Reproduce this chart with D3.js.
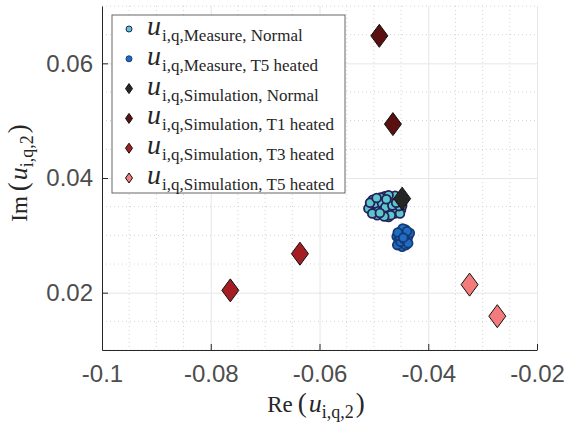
<!DOCTYPE html>
<html>
<head>
<meta charset="utf-8">
<script src="https://cdn.jsdelivr.net/npm/d3@7"></script>
<style>
  body { margin: 0; background: #fff; }
  .tick text { font-family: "Liberation Sans", Arial, sans-serif; font-size: 24px; fill: #4d4d4d; }
  .tex { font-family: "Liberation Serif", "DejaVu Serif", serif; fill: #262626; }
</style>
</head>
<body>
<svg width="568" height="428"></svg>
<script>
const svg = d3.select('svg');
const width = +svg.attr('width');
const height = +svg.attr('height');

// tick labels
const xTicks = [-0.1, -0.08, -0.06, -0.04, -0.02];
const yTicks = [0.02, 0.04, 0.06];

// measurement clouds [re, im]
const measNormal = [
  [-0.0505, 0.0352], [-0.0498, 0.0345], [-0.0490, 0.0360], [-0.0482, 0.0338], [-0.0476, 0.0355],
  [-0.0470, 0.0365], [-0.0466, 0.0342], [-0.0460, 0.0350], [-0.0455, 0.0358], [-0.0450, 0.0345],
  [-0.0510, 0.0347], [-0.0502, 0.0362], [-0.0494, 0.0335], [-0.0487, 0.0350], [-0.0480, 0.0368],
  [-0.0473, 0.0332], [-0.0468, 0.0356], [-0.0462, 0.0338], [-0.0457, 0.0366], [-0.0448, 0.0352],
  [-0.0496, 0.0355], [-0.0484, 0.0344], [-0.0478, 0.0360], [-0.0471, 0.0347], [-0.0464, 0.0361],
  [-0.0458, 0.0344], [-0.0452, 0.0338], [-0.0488, 0.0366], [-0.0500, 0.0340], [-0.0475, 0.0340],
  [-0.0507, 0.0357], [-0.0492, 0.0342], [-0.0485, 0.0356], [-0.0479, 0.0349], [-0.0469, 0.0335],
  [-0.0461, 0.0369], [-0.0454, 0.0351], [-0.0495, 0.0365], [-0.0481, 0.0333], [-0.0466, 0.0352],
  [-0.0503, 0.0338], [-0.0473, 0.0370], [-0.0459, 0.0357], [-0.0489, 0.0339], [-0.0477, 0.0363]
];
const measT5 = [
  [-0.0455, 0.0285], [-0.0450, 0.0295], [-0.0445, 0.0305], [-0.0440, 0.0290], [-0.0436, 0.0300],
  [-0.0448, 0.0280], [-0.0458, 0.0298], [-0.0442, 0.0310], [-0.0452, 0.0306], [-0.0438, 0.0295],
  [-0.0446, 0.0288], [-0.0454, 0.0292], [-0.0443, 0.0298], [-0.0449, 0.0301], [-0.0434, 0.0304],
  [-0.0457, 0.0283], [-0.0441, 0.0283], [-0.0447, 0.0312], [-0.0451, 0.0289], [-0.0439, 0.0307],
  [-0.0453, 0.0299], [-0.0444, 0.0293], [-0.0437, 0.0286], [-0.0456, 0.0305], [-0.0446, 0.0296]
];

// simulation points [re, im]
const simNormal = [[-0.0448, 0.0364]];
const simT1 = [[-0.0490, 0.0648], [-0.0465, 0.0494]];
const simT3 = [[-0.0636, 0.0268], [-0.0764, 0.0204]];
const simT5 = [[-0.0324, 0.0214], [-0.0273, 0.0159]];

const legendLabels = [
  'i,q,Measure, Normal',
  'i,q,Measure, T5 heated',
  'i,q,Simulation, Normal',
  'i,q,Simulation, T1 heated',
  'i,q,Simulation, T3 heated',
  'i,q,Simulation, T5 heated'
];

const margin = {top: 6, right: 31, bottom: 78, left: 102};
const innerWidth = width - margin.left - margin.right;
const innerHeight = height - margin.top - margin.bottom;

const xScale = d3.scaleLinear().domain([-0.1, -0.02]).range([0, innerWidth]);
const yScale = d3.scaleLinear().domain([0.01, 0.07]).range([innerHeight, 0]);

const g = svg.append('g')
  .attr('transform', `translate(${margin.left}, ${margin.top})`);

// minor grid (dotted)
const xMinor = d3.range(-0.1, -0.0199, 0.005).filter(v => !xTicks.some(t => Math.abs(t - v) < 1e-9));
const yMinor = d3.range(0.01, 0.0701, 0.005).filter(v => !yTicks.some(t => Math.abs(t - v) < 1e-9));

g.append('g').selectAll('line').data(xMinor).enter().append('line')
  .attr('x1', d => xScale(d)).attr('x2', d => xScale(d))
  .attr('y1', 0).attr('y2', innerHeight)
  .attr('stroke', '#d4d4d4').attr('stroke-dasharray', '1,3');
g.append('g').selectAll('line').data(yMinor).enter().append('line')
  .attr('y1', d => yScale(d)).attr('y2', d => yScale(d))
  .attr('x1', 0).attr('x2', innerWidth)
  .attr('stroke', '#d4d4d4').attr('stroke-dasharray', '1,3');

// major grid
g.append('g')
  .attr('transform', `translate(0, ${innerHeight})`)
  .call(d3.axisBottom(xScale).tickValues(xTicks).tickSize(-innerHeight).tickFormat(''))
  .call(s => s.select('.domain').remove())
  .selectAll('line').attr('stroke', '#e6e6e6');
g.append('g')
  .call(d3.axisLeft(yScale).tickValues(yTicks).tickSize(-innerWidth).tickFormat(''))
  .call(s => s.select('.domain').remove())
  .selectAll('line').attr('stroke', '#e6e6e6');

// axes, ticks pointing inward, plain hyphen for the minus sign
const tickFmt = d => String(d);
const xAxisG = g.append('g')
  .attr('transform', `translate(0, ${innerHeight})`)
  .call(d3.axisBottom(xScale).tickValues(xTicks).tickFormat(tickFmt).tickSizeInner(-6).tickSizeOuter(0).tickPadding(15));
const yAxisG = g.append('g')
  .call(d3.axisLeft(yScale).tickValues(yTicks).tickFormat(tickFmt).tickSizeInner(-6).tickSizeOuter(0).tickPadding(9));
[xAxisG, yAxisG].forEach(a => {
  a.select('.domain').attr('stroke', '#262626');
  a.selectAll('.tick line').attr('stroke', '#262626');
});

// markers
const diamond = (w, h) => `M0,${-h}L${w},0L0,${h}L${-w},0Z`;

const drawCircles = (data, fill, edge) => {
  g.append('g').selectAll('circle').data(data).enter().append('circle')
    .attr('cx', d => xScale(d[0]))
    .attr('cy', d => yScale(d[1]))
    .attr('r', 4.4)
    .attr('fill', fill)
    .attr('stroke', edge)
    .attr('stroke-width', 1.8);
};
const drawDiamonds = (data, fill) => {
  g.append('g').selectAll('path').data(data).enter().append('path')
    .attr('transform', d => `translate(${xScale(d[0])}, ${yScale(d[1])})`)
    .attr('d', diamond(8.5, 11.5))
    .attr('fill', fill)
    .attr('stroke', '#111')
    .attr('stroke-width', 1);
};

const styles = [
  {type: 'circle', fill: '#5cc6c8', edge: '#24215c'},
  {type: 'circle', fill: '#1f6cc0', edge: '#143a78'},
  {type: 'diamond', fill: '#262626'},
  {type: 'diamond', fill: '#5a0f10'},
  {type: 'diamond', fill: '#a31d22'},
  {type: 'diamond', fill: '#f47b7b'}
];

drawCircles(measNormal, styles[0].fill, styles[0].edge);
drawCircles(measT5, styles[1].fill, styles[1].edge);
drawDiamonds(simNormal, styles[2].fill);
drawDiamonds(simT1, styles[3].fill);
drawDiamonds(simT3, styles[4].fill);
drawDiamonds(simT5, styles[5].fill);

// axis labels (LaTeX-like)
const texLabel = (sel, name) => {
  sel.append('tspan').text(name);
  sel.append('tspan').attr('dx', 5).attr('font-size', 27).text('(');
  sel.append('tspan').attr('dx', 2).attr('font-style', 'italic').attr('font-size', 26).text('u');
  sel.append('tspan').attr('font-size', 18).attr('dy', 6).text('i,q,2');
  sel.append('tspan').attr('dx', 2).attr('dy', -6).attr('font-size', 27).text(')');
};

const xLabel = svg.append('text').attr('class', 'tex')
  .attr('x', 316).attr('y', 412)
  .attr('text-anchor', 'middle').attr('font-size', 23);
texLabel(xLabel, 'Re');

const yLabel = svg.append('text').attr('class', 'tex')
  .attr('transform', 'translate(27, 173) rotate(-90)')
  .attr('text-anchor', 'middle').attr('font-size', 23);
texLabel(yLabel, 'Im');

// legend
const legend = svg.append('g').attr('transform', 'translate(112, 15)');
legend.append('rect')
  .attr('width', 233).attr('height', 178)
  .attr('fill', '#fff').attr('stroke', '#666').attr('stroke-width', 1);

const rows = legend.selectAll('g.row').data(legendLabels).enter().append('g')
  .attr('class', 'row')
  .attr('transform', (d, i) => `translate(0, ${14 + i * 29.8})`);

rows.each(function(d, i) {
  const row = d3.select(this);
  const st = styles[i];
  if (st.type === 'circle') {
    row.append('circle').attr('cx', 17).attr('cy', 0).attr('r', 3)
      .attr('fill', st.fill).attr('stroke', st.edge).attr('stroke-width', 1);
  } else {
    row.append('path').attr('transform', 'translate(17, 0)')
      .attr('d', diamond(3.5, 5)).attr('fill', st.fill).attr('stroke', '#111').attr('stroke-width', 1);
  }
  const t = row.append('text').attr('class', 'tex').attr('x', 35).attr('y', 6);
  t.append('tspan').attr('font-style', 'italic').attr('font-size', 28).text('u');
  t.append('tspan').attr('font-size', 17).attr('dx', 1).attr('dy', 6).text(d);
});
</script>
</body>
</html>
